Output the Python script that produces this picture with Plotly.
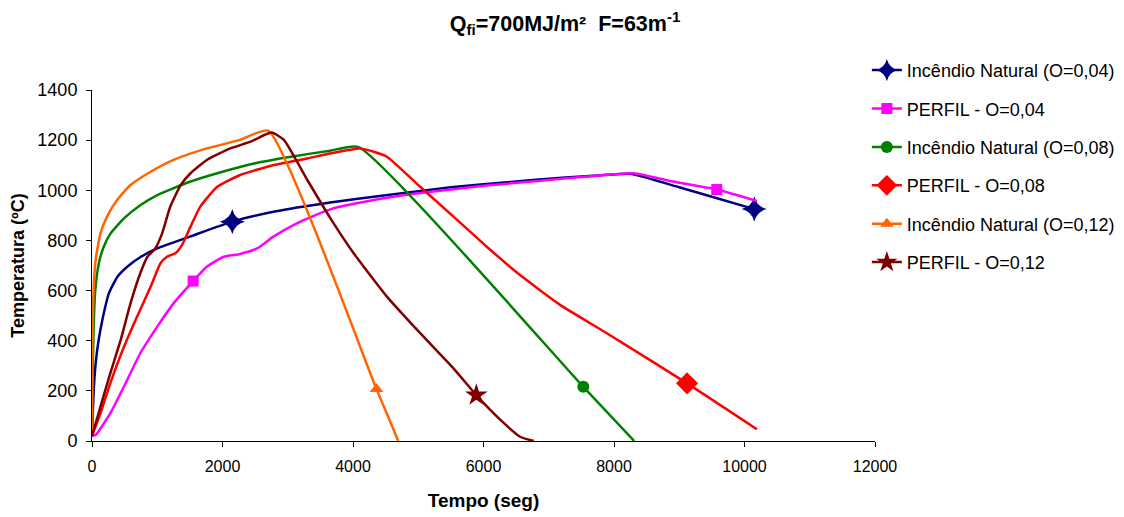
import plotly.graph_objects as go

# ---- data (time in s, temperature in °C) ----
t_in04 = [0, 15, 30, 60, 100, 160, 260, 390, 540, 750, 1000, 1500, 2150, 2800, 3650, 4500, 5500, 6500, 7200, 7800, 8250, 9000, 9500, 10150]
T_in04 = [20, 130, 220, 320, 400, 485, 590, 655, 695, 735, 768, 815, 875, 915, 951, 980, 1012, 1035, 1050, 1060, 1066, 1012, 974, 925]

t_pf04 = [0, 60, 130, 280, 490, 740, 1000, 1250, 1550, 1760, 2020, 2270, 2530, 2780, 3140, 3650, 4300, 5000, 6000, 6870, 7600, 8300, 8900, 9575, 10190]
T_pf04 = [20, 25, 50, 110, 217, 350, 456, 549, 638, 695, 735, 746, 768, 815, 868, 924, 960, 988, 1018, 1038, 1055, 1068, 1035, 1003, 957]

t_in08 = [0, 10, 25, 50, 105, 180, 285, 490, 745, 1000, 1500, 2000, 2500, 3050, 3650, 4080, 7530, 8310]
T_in08 = [20, 250, 450, 600, 709, 775, 828, 888, 941, 981, 1034, 1074, 1108, 1134, 1158, 1173, 216, 0]

t_pf08 = [0, 130, 280, 490, 690, 900, 1050, 1150, 1280, 1380, 1510, 1660, 1920, 2270, 2790, 3300, 3650, 4100, 4320, 4520, 5030, 5540, 6050, 6560, 7180, 7890, 9120, 10190]
T_pf08 = [20, 110, 230, 376, 496, 616, 709, 735, 749, 782, 855, 935, 1014, 1061, 1101, 1127, 1147, 1167, 1154, 1134, 1014, 895, 775, 662, 542, 430, 230, 47]

t_in12 = [0, 5, 18, 55, 130, 230, 385, 590, 900, 1250, 1760, 2270, 2700, 4360, 4694]
T_in12 = [20, 300, 560, 720, 828, 895, 961, 1021, 1074, 1121, 1167, 1201, 1238, 207, 0]

t_pf12 = [0, 130, 280, 440, 590, 740, 850, 970, 1075, 1200, 1360, 1510, 1760, 2120, 2430, 2750, 2940, 3300, 3650, 4010, 4520, 5030, 5540, 5890, 6260, 6560, 6770]
T_pf12 = [20, 137, 270, 403, 549, 669, 735, 768, 828, 935, 1021, 1068, 1121, 1167, 1194, 1230, 1201, 1041, 890, 749, 576, 430, 290, 183, 84, 17, 0]

names = ["Incêndio Natural (O=0,04)", "PERFIL - O=0,04", "Incêndio Natural (O=0,08)",
         "PERFIL - O=0,08", "Incêndio Natural (O=0,12)", "PERFIL - O=0,12"]

# marker positions (x values where Excel drew a marker)
marks_in04 = [2150, 10150]
marks_pf04 = [1550, 9575]
marks_in08 = [7530]
marks_pf08 = [9120]
marks_in12 = [4360]
marks_pf12 = [5890]

series = [
    (t_in04, T_in04, marks_in04, "#000080", "star-diamond", 18),
    (t_pf04, T_pf04, marks_pf04, "#FF00FF", "square", 11),
    (t_in08, T_in08, marks_in08, "#008000", "circle", 12),
    (t_pf08, T_pf08, marks_pf08, "#FF0000", "diamond", 17),
    (t_in12, T_in12, marks_in12, "#FF6600", "triangle-up", 12),
    (t_pf12, T_pf12, marks_pf12, "#800000", "star", 17),
]

FONT = "Liberation Sans, Arial, sans-serif"
fig = go.Figure()
for i, (tx, ty, mk, col, sym, sz) in enumerate(series):
    sizes = [sz if t in mk else 0 for t in tx]
    fig.add_trace(go.Scatter(
        x=tx, y=ty, mode="lines+markers", showlegend=False, legendgroup=str(i),
        line=dict(color=col, width=2.5, shape="spline", smoothing=0.5),
        marker=dict(symbol=sym, size=sizes, color=col, opacity=1, line=dict(width=0)),
        cliponaxis=False,
    ))
    fig.add_trace(go.Scatter(
        x=[None], y=[None], mode="lines+markers", name=names[i], legendgroup=str(i),
        line=dict(color=col, width=2.5),
        marker=dict(symbol=sym, size=min(sz, 16), color=col, opacity=1),
    ))

fig.update_layout(
    width=1124, height=517,
    paper_bgcolor="white", plot_bgcolor="white",
    margin=dict(l=84, r=257, t=82, b=84),
    font=dict(family=FONT, color="black", size=18),
    title=dict(text="<b>Q<sub>fi</sub>=700MJ/m²&nbsp;&nbsp;F=63m<sup>-1</sup></b>",
               x=0.4956, xref="container", xanchor="center",
               y=1 - 15 / 517, yref="container", yanchor="middle",
               font=dict(size=21.5, family=FONT), automargin=False),
    legend=dict(x=0.9896, y=1.1085, xanchor="left", yanchor="top",
                font=dict(size=18, family=FONT), tracegroupgap=12,
                bgcolor="rgba(0,0,0,0)"),
)
fig.update_xaxes(range=[0, 12000], dtick=2000, tick0=0, tickformat="d",
                 showgrid=False, zeroline=False, automargin=False,
                 showline=True, linecolor="black", linewidth=1,
                 ticks="outside", ticklen=5, tickcolor="black", ticklabelstandoff=6,
                 tickfont=dict(size=16),
                 title=dict(text="<b>Tempo (seg)</b>", font=dict(size=19), standoff=19))
fig.update_yaxes(range=[0, 1400], dtick=200, tick0=0, tickformat="d",
                 showgrid=False, zeroline=False, automargin=False,
                 showline=True, linecolor="black", linewidth=1,
                 ticks="outside", ticklen=5, tickcolor="black", ticklabelstandoff=5,
                 tickfont=dict(size=18),
                 title=dict(text="<b>Temperatura (ºC)</b>", font=dict(size=18), standoff=8))

fig.write_html("out.html")
